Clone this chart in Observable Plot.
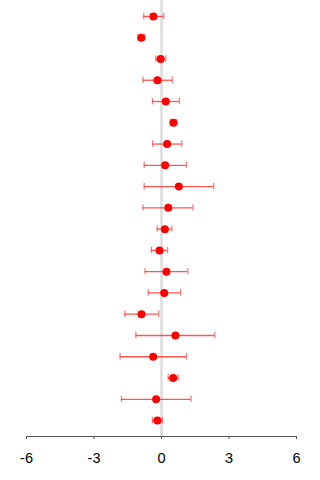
<!DOCTYPE html>
<html>
<head>
<meta charset="utf-8">
<script src="https://cdn.jsdelivr.net/npm/d3@7"></script>
<script src="https://cdn.jsdelivr.net/npm/@observablehq/plot@0.6"></script>
<style>
  html, body { margin: 0; padding: 0; background: #fff; }
  #chart svg { display: block; }
</style>
</head>
<body>
<div id="chart"></div>
<script>
// Study rows, top to bottom
const rows = [1, 2, 3, 4, 5, 6, 7, 8, 9, 10, 11, 12, 13, 14, 15, 16, 17, 18, 19, 20];
// Point estimates
const estimate = [-0.36, -0.90, -0.04, -0.18, 0.19, 0.53, 0.25, 0.16, 0.77, 0.30,
                  0.15, -0.09, 0.22, 0.12, -0.89, 0.62, -0.37, 0.52, -0.24, -0.18];
// Lower confidence limits
const lower = [-0.79, -1.04, -0.25, -0.82, -0.40, 0.39, -0.39, -0.77, -0.77, -0.82,
               -0.19, -0.45, -0.73, -0.59, -1.63, -1.14, -1.84, 0.30, -1.78, -0.40];
// Upper confidence limits
const upper = [0.10, -0.74, 0.19, 0.48, 0.80, 0.68, 0.90, 1.11, 2.32, 1.40,
               0.46, 0.27, 1.17, 0.85, -0.12, 2.37, 1.11, 0.74, 1.31, 0.04];
// Axis ticks
const xTicks = [-6, -3, 0, 3, 6];

const data = rows.map((r, i) => ({row: r, est: estimate[i], lo: lower[i], hi: upper[i]}));
const capHalf = 0.15;

const barColor = "#ff2a2a";

const chart = Plot.plot({
  width: 320,
  height: 480,
  marginLeft: 26,
  marginRight: 24,
  marginTop: 0,
  marginBottom: 44,
  style: {fontFamily: "'Liberation Sans', Arial, sans-serif", background: "#fff"},
  x: {domain: [-6, 6]},
  y: {domain: [20.75, 0.25], axis: null},
  marks: [
    Plot.ruleX([0], {stroke: "#dddddd", strokeWidth: 2.5}),
    Plot.ruleY(data, {y: "row", x1: "lo", x2: "hi", stroke: barColor, strokeOpacity: 0.8, strokeWidth: 1.3}),
    Plot.ruleX(data, {x: "lo", y1: d => d.row - capHalf, y2: d => d.row + capHalf, stroke: barColor, strokeOpacity: 0.6, strokeWidth: 1.3}),
    Plot.ruleX(data, {x: "hi", y1: d => d.row - capHalf, y2: d => d.row + capHalf, stroke: barColor, strokeOpacity: 0.6, strokeWidth: 1.3}),
    Plot.dot(data, {x: "est", y: "row", r: 4, fill: "#ff0000", stroke: "none"}),
    Plot.frame({anchor: "bottom", stroke: "#555"}),
    Plot.axisX({ticks: xTicks, tickSize: 3, tickPadding: 13, fontSize: 14.5, stroke: "#555", color: "#000", tickFormat: d => String(d)})
  ]
});

document.getElementById("chart").appendChild(chart);
</script>
</body>
</html>
